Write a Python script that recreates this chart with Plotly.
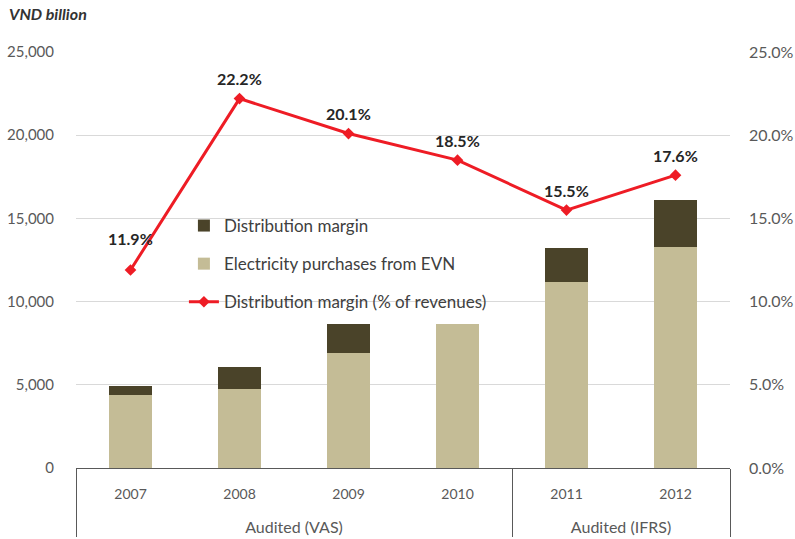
import plotly.graph_objects as go

# Reporting basis and fiscal years
groups = ["Audited (VAS)"] * 4 + ["Audited (IFRS)"] * 2
years = ["2007", "2008", "2009", "2010", "2011", "2012"]

# VND billion
evn_purchases = [4360, 4740, 6910, 8650, 11180, 13270]
dist_margin = [590, 1350, 1740, 0, 2050, 2840]

# Distribution margin as share of revenues
margin_pct = [0.119, 0.222, 0.201, 0.185, 0.155, 0.176]

LIGHT = "#C4BC96"
DARK = "#4A4329"
RED = "#EE1C25"
AXIS_TXT = "#595959"
FONT = "Lato, 'Open Sans', sans-serif"

# Two-level category axis: year row on top, group caption one (taller) line lower
year_labels = ["<span style='font-size:14px'>" + y + "</span>" for y in years]
group_labels = ["<br><span style='font-size:16px'>" + g + "</span>" for g in groups]
x = [group_labels, year_labels]

fig = go.Figure()
fig.add_trace(go.Bar(
    x=x, y=evn_purchases, name="Electricity purchases from EVN",
    marker=dict(color=LIGHT, line=dict(width=0)), legendrank=2, legendgroup="b",
))
fig.add_trace(go.Bar(
    x=x, y=dist_margin, name="Distribution margin",
    marker=dict(color=DARK, line=dict(width=0)), legendrank=1, legendgroup="a",
))
fig.add_trace(go.Scatter(
    x=x, y=margin_pct, name="Distribution margin (% of revenues)", yaxis="y2",
    mode="lines+markers", line=dict(color=RED, width=3),
    marker=dict(symbol="diamond", size=9, color=RED),
    legendrank=3, legendgroup="c",
))

# Percentage labels above each point of the line
for i, v in enumerate(margin_pct):
    fig.add_annotation(
        x=i, y=v, xref="x", yref="y2", text=f"<b>{v*100:.1f}%</b>",
        showarrow=False, yshift=31 if i == 0 else 20,
        font=dict(family=FONT, size=16, color="#262626"),
    )

fig.add_annotation(
    x=0, y=1, xref="paper", yref="paper", xanchor="left", yanchor="top",
    xshift=-69, yshift=50, text="<b><i>VND billion</i></b>", showarrow=False,
    font=dict(family=FONT, size=16, color="#333333"),
)

fig.update_layout(
    width=795, height=539,
    margin=dict(l=76, r=65, t=52, b=71),
    paper_bgcolor="white", plot_bgcolor="white",
    barmode="stack", bargap=0.6,
    font=dict(family=FONT, size=14, color=AXIS_TXT),
    showlegend=True,
    legend=dict(
        x=0.165, y=0.625, xanchor="left", yanchor="top",
        bgcolor="rgba(0,0,0,0)", font=dict(family=FONT, size=17, color="#404040"),
        tracegroupgap=13, itemwidth=30,
    ),
    xaxis=dict(
        type="multicategory", showline=True, linecolor="#595959", linewidth=1,
        showdividers=True, dividercolor="#595959", dividerwidth=1,
        tickfont=dict(family=FONT, size=18, color=AXIS_TXT),
        showgrid=False, ticks="", ticklabelstandoff=8, automargin=False,
    ),
    yaxis=dict(
        range=[0, 25000], dtick=5000, tickformat=",", showgrid=True,
        gridcolor="#D9D9D9", gridwidth=1, zeroline=False, showline=False,
        ticklabelstandoff=21, tickfont=dict(family=FONT, size=15, color=AXIS_TXT),
        automargin=False,
    ),
    yaxis2=dict(
        range=[0, 0.25], dtick=0.05, tickformat=".1%", overlaying="y", side="right",
        showgrid=False, zeroline=False, showline=False,
        ticklabelstandoff=18, tickfont=dict(family=FONT, size=16, color=AXIS_TXT),
        automargin=False,
    ),
)

fig.write_html("out.html")
